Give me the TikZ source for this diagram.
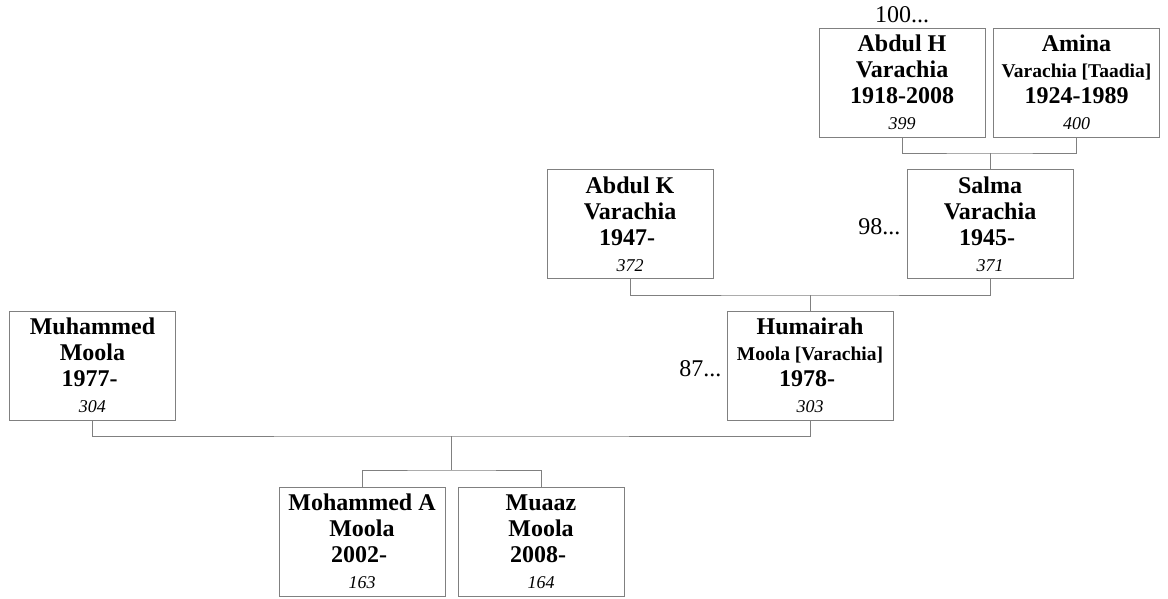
\documentclass[tikz,border=0pt]{standalone}
\usepackage{fontspec}
\setmainfont{Liberation Serif}
\definecolor{edgegray}{RGB}{128,128,128}
\tikzset{
  person/.style={draw=edgegray, line width=1pt, fill=white, minimum width=166pt, minimum height=109pt,
    inner sep=0pt, align=center, font=\fontsize{24}{26}\selectfont\bfseries, text=black},
  link/.style={draw=edgegray, line width=1pt},
  more/.style={font=\fontsize{24}{26}\selectfont, inner sep=0pt, text=black}
}
\newcommand{\snum}[1]{{\mdseries\itshape\fontsize{18}{26}\selectfont #1}}
\newcommand{\ssub}[1]{{\fontsize{19.5}{26}\selectfont #1}}
\newcommand{\openyr}[1]{#1\kern6pt}
\begin{document}
\begin{tikzpicture}[x=1pt,y=-1pt]
\useasboundingbox (0,0) rectangle (1168,598);
% generation 1
\node[person] (abdulh) at (902,82.5) {Abdul H\\Varachia\\1918-2008\\\snum{399}};
\node[person] (amina) at (1076.5,82.5) {Amina\\\ssub{Varachia [Taadia]}\\1924-1989\\\snum{400}};
% generation 2
\node[person] (abdulk) at (630,224) {Abdul K\\Varachia\\\openyr{1947-}\\\snum{372}};
\node[person] (salma) at (990,224) {Salma\\Varachia\\\openyr{1945-}\\\snum{371}};
% generation 3
\node[person] (muhammed) at (92.5,365.5) {Muhammed\\Moola\\\openyr{1977-}\\\snum{304}};
\node[person] (humairah) at (810,365.5) {Humairah\\\ssub{Moola [Varachia]}\\\openyr{1978-}\\\snum{303}};
% generation 4
\node[person] (mohammeda) at (362,541.5) {Mohammed A\\Moola\\\openyr{2002-}\\\snum{163}};
\node[person] (muaaz) at (541,541.5) {Muaaz\\Moola\\\openyr{2008-}\\\snum{164}};
% continuation labels
\node[more, anchor=south] (m100) at ([yshift=4pt]abdulh.north) {100...};
\node[more, anchor=east] (m98) at ([xshift=-6pt,yshift=-3pt]salma.west) {98...};
\node[more, anchor=east] (m87) at ([xshift=-5pt,yshift=-3pt]humairah.west) {87...};
% junction coordinates
\coordinate (j1) at (990,153);
\coordinate (j2) at (810,295);
\coordinate (j3) at (451.5,436);
\coordinate (j4) at (451.5,470);
% connectors
\draw[link] (abdulh.south) |- (j1) -| (amina.south);
\draw[link] (j1) -- (salma.north);
\draw[link] (abdulk.south) |- (j2) -| (salma.south);
\draw[link] (j2) -- (humairah.north);
\draw[link] (muhammed.south) |- (j3) -| (humairah.south);
\draw[link] (j3) -- (j4);
\draw[link] (mohammeda.north) |- (j4) -| (muaaz.north);
\end{tikzpicture}
\end{document}
